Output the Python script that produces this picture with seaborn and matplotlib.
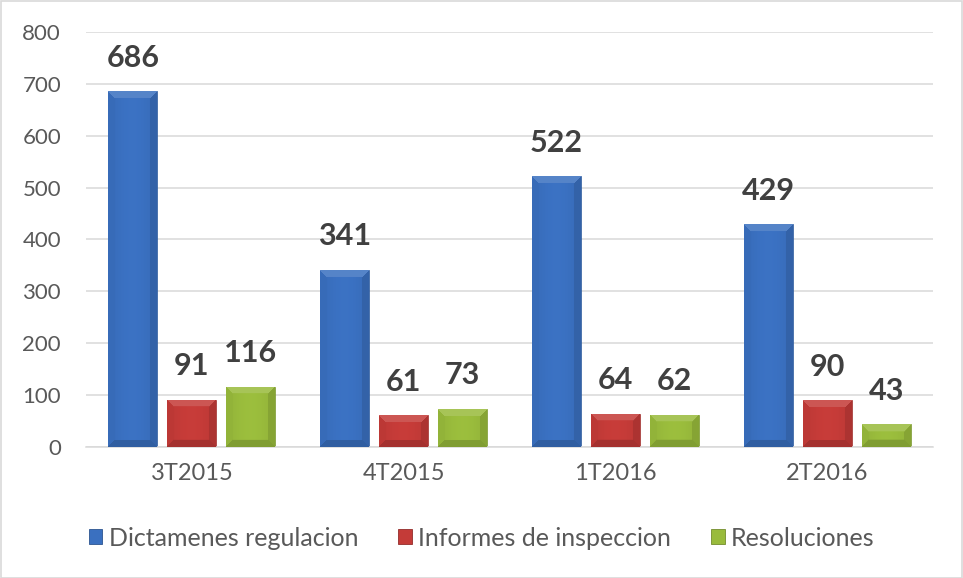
import numpy as np
import pandas as pd
import matplotlib
matplotlib.use("Agg")
import matplotlib.pyplot as plt
import matplotlib.patches as mpatches
from matplotlib.colors import to_rgb
import seaborn as sns

# ---- data ----
categories = ["3T2015", "4T2015", "1T2016", "2T2016"]
series_names = ["Dictamenes regulacion", "Informes de inspeccion", "Resoluciones"]
dictamenes = [686, 341, 522, 429]
informes = [91, 61, 64, 90]
resoluciones = [116, 73, 62, 43]
y_ticks = [0, 100, 200, 300, 400, 500, 600, 700, 800]
series_colors = ["#3a70c0", "#c43b38", "#99bb3c"]

rows = []
for name, vals in zip(series_names, [dictamenes, informes, resoluciones]):
    for c, v in zip(categories, vals):
        rows.append({"cat": c, "serie": name, "valor": v})
df = pd.DataFrame(rows)

sns.set_theme(style="white")
plt.rcParams["font.family"] = ["Lato", "DejaVu Sans"]

fig = plt.figure(figsize=(9.63, 5.78), dpi=100)
ax = fig.add_axes([86 / 963, 1 - 446.7 / 578, (933 - 86) / 963, (446.7 - 32) / 578])

sns.barplot(data=df, x="cat", y="valor", hue="serie", order=categories,
            hue_order=series_names, palette=series_colors, width=0.836, gap=0.17,
            legend=False, ax=ax, saturation=1, edgecolor="none", zorder=2)

ax.set_ylim(0, 800)
ax.set_xlim(-0.5, len(categories) - 0.5)
ax.set_yticks(y_ticks)
ax.yaxis.grid(True, color="#d9d9d9", linewidth=1.1, zorder=0)
ax.set_axisbelow(True)
for s in ["left", "right", "top"]:
    ax.spines[s].set_visible(False)
ax.spines["bottom"].set_color("#d9d9d9")
ax.spines["bottom"].set_linewidth(1.1)
ax.set_xlabel("")
ax.set_ylabel("")
ax.tick_params(axis="both", length=0, labelcolor="#595959")
ax.tick_params(axis="x", labelsize=17, pad=12)
ax.tick_params(axis="y", labelsize=16, pad=18)

# ---- bevel shading on bars ----
fig.canvas.draw()
def shade(rgb, f):
    rgb = np.array(rgb)
    if f >= 1:
        return rgb + (1 - rgb) * (f - 1)
    return rgb * f

for container, col in zip(ax.containers, series_colors):
    base = np.array(to_rgb(col))
    for p in container.patches:
        x0, y0 = p.get_x(), p.get_y()
        w, h = p.get_width(), p.get_height()
        (px0, py0), (px1, py1) = ax.transData.transform([(x0, y0), (x0 + w, y0 + h)])
        W = max(int(round(px1 - px0)), 2)
        H = max(int(round(py1 - py0)), 2)
        b = min(7, W // 2, H // 2)
        img = np.zeros((H, W, 3))
        ii, jj = np.mgrid[0:H, 0:W]
        dt, db, dl, dr = ii, H - 1 - ii, jj, W - 1 - jj
        stack = np.stack([dt, db, dl, dr])
        dmin = stack.min(axis=0)
        reg = stack.argmin(axis=0)
        u = jj / max(W - 1, 1)
        center = base[None, None, :] * (0.95 + 0.07 * np.sin(np.pi * u))[..., None]
        img[:] = np.clip(center, 0, 1)
        factors = [1.14, 0.84, 0.96, 0.88]
        for r, f in enumerate(factors):
            m = (dmin < b) & (reg == r)
            img[m] = np.clip(shade(base, f), 0, 1)
        im = ax.imshow(img, extent=(x0, x0 + w, y0, y0 + h), aspect="auto",
                       interpolation="bilinear", zorder=3)
        im.set_clip_path(p)
        p.set_edgecolor(shade(base, 0.8))
        p.set_linewidth(0.5)

ax.set_ylim(0, 800)
ax.set_xlim(-0.5, len(categories) - 0.5)

for container in ax.containers:
    ax.bar_label(container, fmt="%d", padding=14, fontsize=22, fontweight="bold",
                 color="#404040", zorder=5)

handles = [mpatches.Patch(facecolor=c, edgecolor=shade(to_rgb(c), 0.75), linewidth=0.6, label=n)
           for n, c in zip(series_names, series_colors)]
leg = fig.legend(handles=handles, loc="center", bbox_to_anchor=(0.5, 1 - 538 / 578),
                 ncol=3, frameon=False, fontsize=18, handlelength=0.55, handleheight=0.55,
                 handletextpad=0.25, columnspacing=1.6)
for t in leg.get_texts():
    t.set_color("#595959")

fig.patches.append(mpatches.Rectangle((0.5 / 963, 0.5 / 578), 1 - 1.5 / 963, 1 - 1.5 / 578,
                                      transform=fig.transFigure, fill=False,
                                      edgecolor="#d9d9d9", linewidth=1.2))

fig.savefig("out.png", dpi=100)
